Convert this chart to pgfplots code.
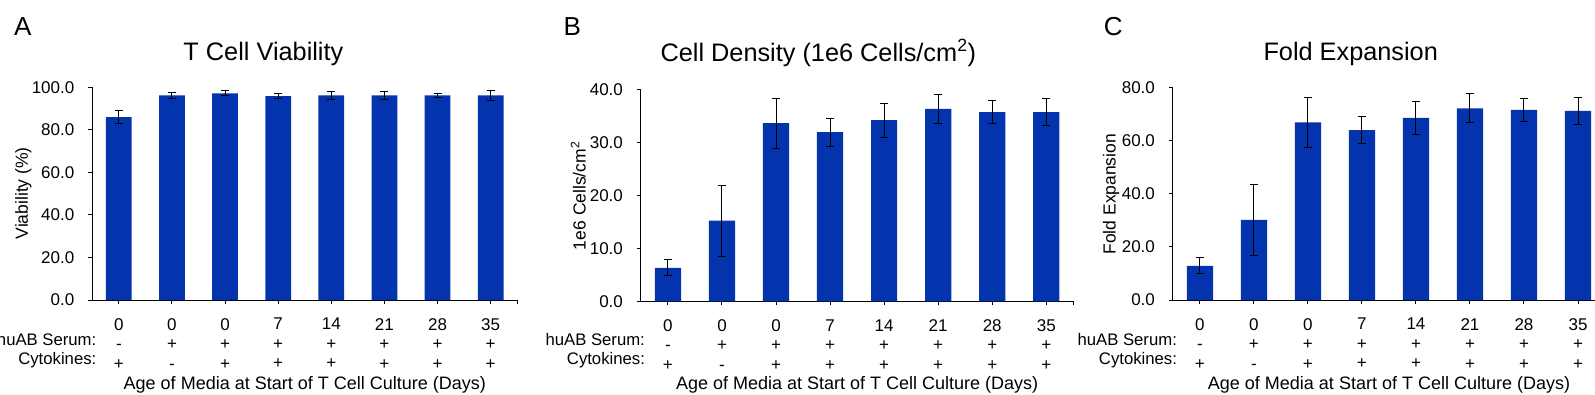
\documentclass[border=0pt]{standalone}
\usepackage{pgfplots}
\pgfplotsset{compat=1.18}
\usepackage{fontspec}
\setmainfont{Liberation Sans}
\definecolor{barblue}{RGB}{3,51,173}
\pgfplotsset{
  panel/.style={
    scale only axis,
    ymin=0,
    xmin=-0.5, xmax=7.5,
    axis lines=left,
    axis line style={-, line width=1pt, black},
    tick align=outside,
    major tick length=4pt,
    tick style={black, line width=1pt},
    xtick={0,...,7},
    xticklabels={{0\\-\\+},{0\\+\\-},{0\\+\\+},{7\\+\\+},{14\\+\\+},{21\\+\\+},{28\\+\\+},{35\\+\\+}},
    xticklabel style={align=center, anchor=north, inner sep=0pt, yshift=-14pt, font=\fontsize{17}{19.5}\selectfont},
    yticklabel style={anchor=east, inner sep=0pt, xshift=-13.8pt, font=\fontsize{17}{20}\selectfont},
    extra x ticks={7.5}, extra x tick labels={},
    ybar, bar width=0.485,
    clip=false,
  },
  bars/.style={fill=barblue, draw=none,
    error bars/.cd, y dir=both, y explicit,
    error bar style={line width=1pt, black},
    error mark options={rotate=90, mark size=4pt, line width=1pt, black}},
}
\begin{document}
\begin{tikzpicture}
\useasboundingbox (0pt,0pt) rectangle (1595pt,-394pt);

% Panel A
\begin{axis}[panel, at={(92.3pt,-300pt)}, anchor=south west,
  width=424.9pt, height=212.7pt, ymax=100,
  ytick={0,20,40,60,80,100}, yticklabels={0.0,20.0,40.0,60.0,80.0,100.0}]
\addplot+[bars] coordinates {
 (0,86.0) +- (0,3.0)
 (1,96.2) +- (0,1.4)
 (2,97.2) +- (0,1.2)
 (3,95.8) +- (0,1.2)
 (4,96.2) +- (0,2.0)
 (5,96.2) +- (0,1.7)
 (6,96.2) +- (0,0.9)
 (7,96.2) +- (0,2.3)
};
\end{axis}

% Panel B
\begin{axis}[panel, at={(640.9pt,-301.3pt)}, anchor=south west,
  width=432.4pt, height=212pt, ymax=40,
  ytick={0,10,20,30,40}, yticklabels={0.0,10.0,20.0,30.0,40.0}]
\addplot+[bars] coordinates {
 (0,6.3) +- (0,1.5)
 (1,15.2) +- (0,6.7)
 (2,33.6) +- (0,4.7)
 (3,31.9) +- (0,2.6)
 (4,34.2) +- (0,3.2)
 (5,36.3) +- (0,2.7)
 (6,35.7) +- (0,2.2)
 (7,35.7) +- (0,2.6)
};
\end{axis}

% Panel C
\begin{axis}[panel, at={(1172.9pt,-300pt)}, anchor=south west,
  width=432.1pt, height=212.7pt, ymax=80,
  ytick={0,20,40,60,80}, yticklabels={0.0,20.0,40.0,60.0,80.0}]
\addplot+[bars] coordinates {
 (0,12.8) +- (0,3.0)
 (1,30.1) +- (0,13.4)
 (2,66.8) +- (0,9.4)
 (3,63.9) +- (0,5.0)
 (4,68.5) +- (0,6.3)
 (5,72.1) +- (0,5.5)
 (6,71.5) +- (0,4.4)
 (7,71.1) +- (0,5.2)
};
\end{axis}

% Panel letters
\node[anchor=base west, inner sep=0pt, font=\fontsize{26}{30}\selectfont] at (13.8pt,-35pt) {A};
\node[anchor=base west, inner sep=0pt, font=\fontsize{26}{30}\selectfont] at (563.4pt,-35pt) {B};
\node[anchor=base west, inner sep=0pt, font=\fontsize{26}{30}\selectfont] at (1103.7pt,-35pt) {C};

% Titles
\node[anchor=base, inner sep=0pt, font=\fontsize{25.3}{29}\selectfont] at (263.4pt,-60pt) {T Cell Viability};
\node[anchor=base, inner sep=0pt, font=\fontsize{25.3}{29}\selectfont] at (818.3pt,-61pt) {Cell Density (1e6 Cells/cm\textsuperscript{2})};
\node[anchor=base, inner sep=0pt, font=\fontsize{25.3}{29}\selectfont] at (1350.7pt,-60pt) {Fold Expansion};

% Y labels
\node[rotate=90, anchor=center, inner sep=0pt, font=\fontsize{17.5}{21}\selectfont] at (23.4pt,-193.3pt) {Viability (\%)};
\node[rotate=90, anchor=center, inner sep=0pt, font=\fontsize{17.5}{21}\selectfont] at (578.2pt,-195.8pt) {1e6 Cells/cm\textsuperscript{2}};
\node[rotate=90, anchor=center, inner sep=0pt, font=\fontsize{17.5}{21}\selectfont] at (1111pt,-194.2pt) {Fold Expansion};

% Row labels
\foreach \xx in {96.5,645.1,1177.1}{
  \node[anchor=base east, inner sep=0pt, font=\fontsize{16.7}{19.5}\selectfont] at (\xx pt,-345.3pt) {huAB Serum:};
  \node[anchor=base east, inner sep=0pt, font=\fontsize{16.7}{19.5}\selectfont] at (\xx pt,-364.8pt) {Cytokines:};
}

% X labels
\node[anchor=base, inner sep=0pt, font=\fontsize{18}{22}\selectfont] at (304.8pt,-389pt) {Age of Media at Start of T Cell Culture (Days)};
\node[anchor=base, inner sep=0pt, font=\fontsize{18}{22}\selectfont] at (857.1pt,-389pt) {Age of Media at Start of T Cell Culture (Days)};
\node[anchor=base, inner sep=0pt, font=\fontsize{18}{22}\selectfont] at (1389pt,-389pt) {Age of Media at Start of T Cell Culture (Days)};
\end{tikzpicture}
\end{document}
